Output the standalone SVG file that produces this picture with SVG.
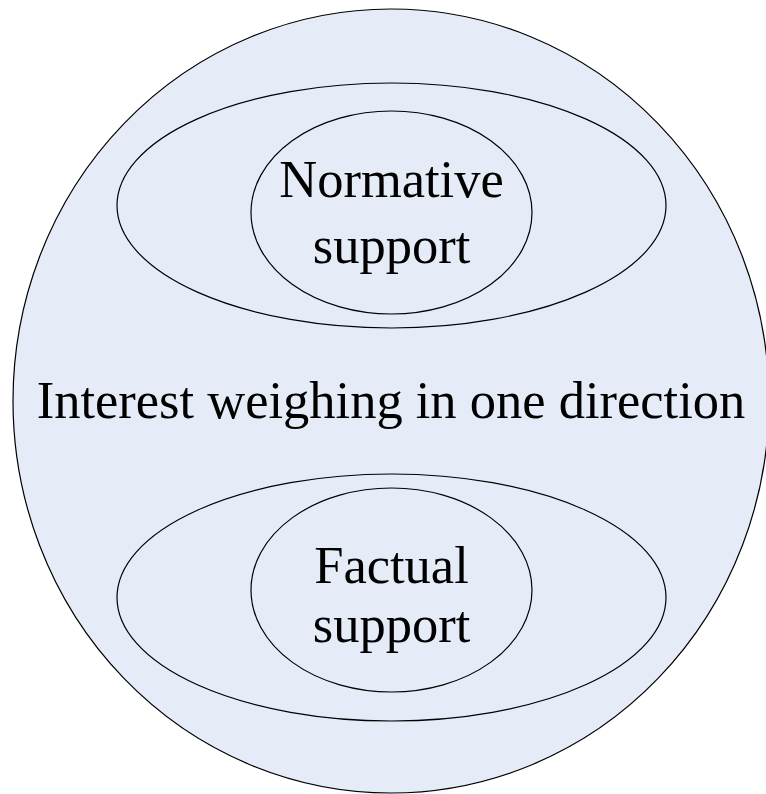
<svg xmlns="http://www.w3.org/2000/svg" width="766" height="794" viewBox="0 0 766 794">
<style>
.shape{fill:#E6ECF7;stroke:#000;stroke-width:1.2}
.lbl{font-family:"Liberation Serif","Times New Roman",serif;font-size:52.5px;fill:#000;text-anchor:middle}
</style>
<rect width="766" height="794" fill="#fff"/>
<g id="interest">
<ellipse class="shape" cx="391" cy="401" rx="378" ry="392"/>
<text class="lbl" x="391" y="418">Interest weighing in one direction</text>
</g>
<g id="normative-outer">
<ellipse class="shape" cx="391.5" cy="205.5" rx="274.5" ry="122.5"/>
</g>
<g id="normative">
<ellipse class="shape" cx="391.5" cy="212.5" rx="140.5" ry="101.5"/>
<text class="lbl" x="391.5" y="197">Normative</text>
<text class="lbl" x="391.5" y="263">support</text>
</g>
<g id="factual-outer">
<ellipse class="shape" cx="391.5" cy="597.5" rx="274.5" ry="123.5"/>
</g>
<g id="factual">
<ellipse class="shape" cx="391.5" cy="590" rx="140.5" ry="102"/>
<text class="lbl" x="391.5" y="583">Factual</text>
<text class="lbl" x="391.5" y="642">support</text>
</g>
<g id="connectors"/>
</svg>
